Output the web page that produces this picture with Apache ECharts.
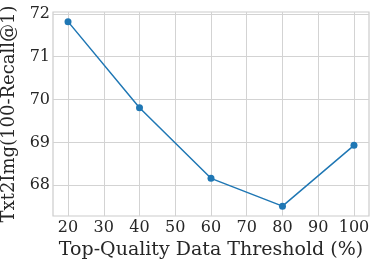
<!DOCTYPE html>
<html><head><meta charset="utf-8">
<script src="https://cdn.jsdelivr.net/npm/echarts@6/dist/echarts.min.js"></script>
<style>html,body{margin:0;padding:0;background:#fff}#c{width:378px;height:266px}</style>
</head><body><div id="c"></div>
<script>
const thresholds = [20, 40, 60, 80, 100];
const recallValues = [71.82, 69.81, 68.16, 67.51, 68.93];
const xTicks = [20, 30, 40, 50, 60, 70, 80, 90, 100];
const yTicks = [68, 69, 70, 71, 72];
const xTitle = 'Top-Quality Data Threshold (%)';
const yTitle = 'Txt2Img(100-Recall@1)';

const font = 'DejaVu Serif';
const chart = echarts.init(document.getElementById('c'), null, {renderer: 'canvas'});
chart.setOption({
  animation: false,
  grid: {left: 53, right: 9, top: 12, bottom: 50, show: true, borderColor: '#cccccc', borderWidth: 1.2, containLabel: false, outerBoundsMode: 'none'},
  xAxis: {
    type: 'value', min: 15.8, max: 104.2,
    name: xTitle, nameLocation: 'middle', nameGap: 23,
    nameTextStyle: {fontFamily: font, fontSize: 19, color: '#262626'},
    axisLine: {show: false}, axisTick: {show: false, customValues: xTicks},
    axisLabel: {customValues: xTicks, fontFamily: font, fontSize: 16, color: '#262626', margin: 4},
    splitLine: {show: true, lineStyle: {color: '#d3d3d3', width: 1}}
  },
  yAxis: {
    type: 'value', min: 67.28, max: 72.045,
    name: yTitle, nameLocation: 'middle', nameGap: 29, nameRotate: 90,
    nameTextStyle: {fontFamily: font, fontSize: 18, color: '#262626'},
    axisLine: {show: false}, axisTick: {show: false, customValues: yTicks},
    axisLabel: {customValues: yTicks, fontFamily: font, fontSize: 16, color: '#262626', margin: 3},
    splitLine: {show: true, lineStyle: {color: '#d3d3d3', width: 1}}
  },
  series: [{
    type: 'line',
    data: thresholds.map((x, i) => [x, recallValues[i]]),
    symbol: 'circle', symbolSize: 7,
    lineStyle: {color: '#1f77b4', width: 1.5},
    itemStyle: {color: '#1f77b4'}
  }]
});
</script></body></html>
